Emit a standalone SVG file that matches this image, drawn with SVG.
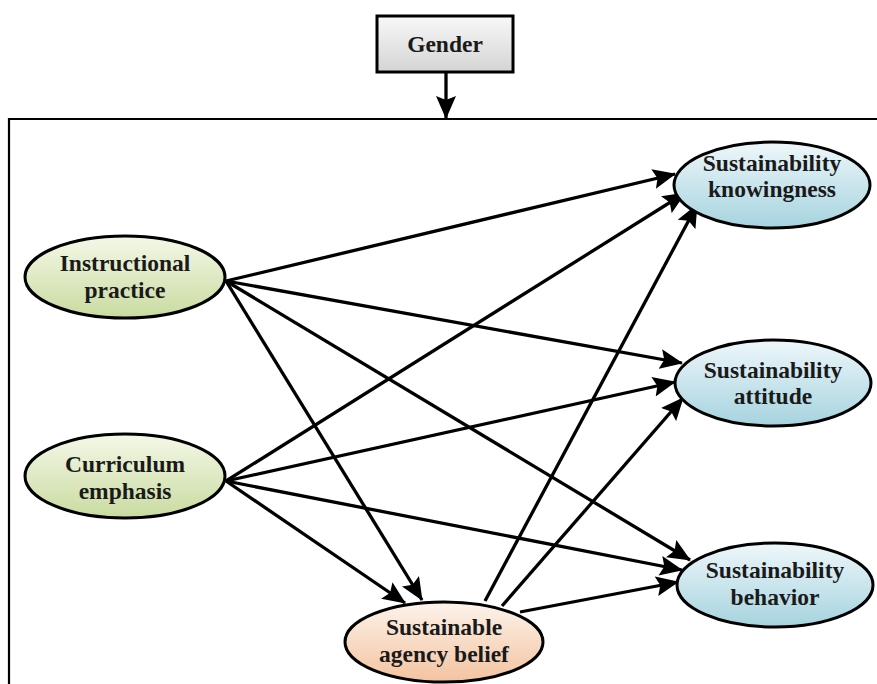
<svg xmlns="http://www.w3.org/2000/svg" width="877" height="684" viewBox="0 0 877 684">
<style>
.lbl{font-family:"Liberation Serif","Times New Roman",serif;font-weight:bold;font-size:23.5px;fill:#1a1a1a;text-anchor:middle}
.node{stroke:#000;stroke-width:3}
.edge{stroke:#000;stroke-width:3.3;fill:none;marker-end:url(#ah)}
.frame{stroke:#000;stroke-width:2.2;fill:none}
</style>
<defs>
<marker id="ah" markerUnits="userSpaceOnUse" markerWidth="24" markerHeight="20" refX="22" refY="10" orient="auto">
<path d="M0,0 L23,10 L0,20 L4,10 Z" fill="#000"/>
</marker>
<linearGradient id="gGray" x1="0" y1="0" x2="0" y2="1"><stop offset="0" stop-color="#f8f8f8"/><stop offset="1" stop-color="#d4d4d4"/></linearGradient>
<linearGradient id="gGreen" x1="0" y1="0" x2="0" y2="1"><stop offset="0" stop-color="#f4f8e8"/><stop offset="1" stop-color="#c9dba0"/></linearGradient>
<linearGradient id="gBlue" x1="0" y1="0" x2="0" y2="1"><stop offset="0" stop-color="#eef7fa"/><stop offset="1" stop-color="#a6d3df"/></linearGradient>
<linearGradient id="gPeach" x1="0" y1="0" x2="0" y2="1"><stop offset="0" stop-color="#fdf3ec"/><stop offset="1" stop-color="#f3c3a0"/></linearGradient>
</defs>
<path class="frame" d="M9,684 V119 H877"/>
<g id="connectors">
<line class="edge" x1="446" y1="72" x2="446" y2="118"/>
<line class="edge" x1="226" y1="281" x2="675" y2="174"/>
<line class="edge" x1="226" y1="281" x2="682" y2="363"/>
<line class="edge" x1="226" y1="281" x2="690" y2="560"/>
<line class="edge" x1="226" y1="281" x2="422" y2="600"/>
<line class="edge" x1="226" y1="481" x2="685" y2="193"/>
<line class="edge" x1="226" y1="481" x2="675" y2="382"/>
<line class="edge" x1="226" y1="481" x2="682" y2="570"/>
<line class="edge" x1="226" y1="481" x2="405" y2="603"/>
<line class="edge" x1="485" y1="601" x2="697" y2="205"/>
<line class="edge" x1="502" y1="606" x2="683" y2="398"/>
<line class="edge" x1="520" y1="612" x2="678" y2="582"/>
</g>
<g id="gender">
<rect class="node" x="377" y="16" width="136" height="56" fill="url(#gGray)"/>
<text class="lbl" x="445" y="52">Gender</text>
</g>
<g id="instructional">
<ellipse class="node" cx="125" cy="277" rx="100" ry="41" fill="url(#gGreen)"/>
<text class="lbl" x="125" y="271">Instructional</text>
<text class="lbl" x="125" y="298">practice</text>
</g>
<g id="curriculum">
<ellipse class="node" cx="125" cy="476" rx="100" ry="42" fill="url(#gGreen)"/>
<text class="lbl" x="125" y="472">Curriculum</text>
<text class="lbl" x="125" y="499">emphasis</text>
</g>
<g id="knowingness">
<ellipse class="node" cx="772" cy="185" rx="98" ry="43" fill="url(#gBlue)"/>
<text class="lbl" x="772" y="171">Sustainability</text>
<text class="lbl" x="772" y="197">knowingness</text>
</g>
<g id="attitude">
<ellipse class="node" cx="773" cy="383" rx="98" ry="43" fill="url(#gBlue)"/>
<text class="lbl" x="773" y="378">Sustainability</text>
<text class="lbl" x="773" y="404">attitude</text>
</g>
<g id="behavior">
<ellipse class="node" cx="775" cy="585" rx="98" ry="42" fill="url(#gBlue)"/>
<text class="lbl" x="775" y="578">Sustainability</text>
<text class="lbl" x="775" y="605">behavior</text>
</g>
<g id="agency">
<ellipse class="node" cx="444" cy="642" rx="99" ry="40" fill="url(#gPeach)"/>
<text class="lbl" x="444" y="635">Sustainable</text>
<text class="lbl" x="444" y="662">agency belief</text>
</g>
</svg>
